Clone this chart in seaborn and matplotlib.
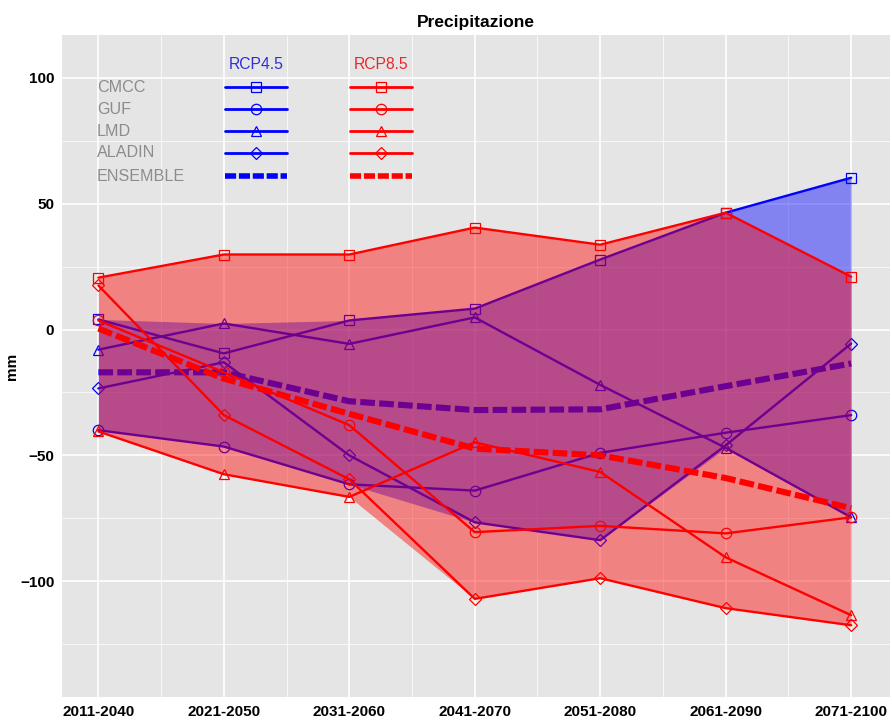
import numpy as np
import pandas as pd
import matplotlib
matplotlib.use("Agg")
import matplotlib.pyplot as plt
import seaborn as sns
from matplotlib.lines import Line2D
from matplotlib.ticker import MultipleLocator

# ---------------------------------------------------------------------------
# Data (mm)
# ---------------------------------------------------------------------------
periods = ["2011-2040", "2021-2050", "2031-2060", "2041-2070",
           "2051-2080", "2061-2090", "2071-2100"]
models = ["CMCC", "GUF", "LMD", "ALADIN"]

rcp45_cmcc = [4.0, -9.5, 3.6, 8.3, 27.8, 46.4, 60.3]
rcp45_guf = [-40.0, -46.5, -61.5, -64.0, -49.0, -41.0, -34.0]
rcp45_lmd = [-8.0, 2.4, -5.7, 4.8, -22.0, -47.0, -74.6]
rcp45_aladin = [-23.4, -13.0, -50.0, -76.6, -83.7, -46.0, -5.6]
rcp45_ensemble = [-17.0, -17.0, -28.5, -32.0, -31.7, -22.5, -13.5]

rcp85_cmcc = [20.6, 29.8, 29.8, 40.5, 33.7, 46.4, 21.0]
rcp85_guf = [3.6, -17.0, -38.0, -80.5, -78.0, -81.0, -74.6]
rcp85_lmd = [-40.5, -57.5, -66.5, -44.8, -56.6, -90.5, -113.5]
rcp85_aladin = [17.5, -34.0, -59.5, -107.0, -98.8, -110.7, -117.5]
rcp85_ensemble = [0.4, -19.5, -33.5, -47.3, -50.0, -59.0, -71.0]

scenarios = ["RCP4.5", "RCP8.5"]
scenario_models = {
    "RCP4.5": [rcp45_cmcc, rcp45_guf, rcp45_lmd, rcp45_aladin],
    "RCP8.5": [rcp85_cmcc, rcp85_guf, rcp85_lmd, rcp85_aladin],
}
scenario_ensemble = {"RCP4.5": rcp45_ensemble, "RCP8.5": rcp85_ensemble}

# ---------------------------------------------------------------------------
# Styling
# ---------------------------------------------------------------------------
COLORS = {"RCP4.5": "#0000ff", "RCP8.5": "#ff0000"}
HEADER_COLORS = {"RCP4.5": "#2f2fd6", "RCP8.5": "#e8282b"}
MARKERS = {"CMCC": "s", "GUF": "o", "LMD": "^", "ALADIN": "D"}
MARKER_SIZES = {"CMCC": 7, "GUF": 7.5, "LMD": 7, "ALADIN": 6.5}
FILL_ALPHA = 0.43

sns.set_style("darkgrid", {
    "axes.facecolor": "#e5e5e5",
    "grid.color": "white",
})
plt.rcParams["font.family"] = ["Liberation Sans", "DejaVu Sans"]

rows = []
for scen in scenarios:
    for name, vals in zip(models, scenario_models[scen]):
        for p, v in zip(periods, vals):
            rows.append({"scenario": scen, "model": name, "period": p, "mm": v})
    for p, v in zip(periods, scenario_ensemble[scen]):
        rows.append({"scenario": scen, "model": "ENSEMBLE", "period": p, "mm": v})
df = pd.DataFrame(rows)

fig = plt.figure(figsize=(8.92, 7.22), dpi=100)
ax = fig.add_axes([0.0695, 0.0346, 0.9283, 0.9169])

xpos = np.arange(len(periods))
z = 1
for scen in scenarios:
    color = COLORS[scen]
    sub = df[(df.scenario == scen) & (df.model != "ENSEMBLE")]
    band = sub.pivot(index="period", columns="model", values="mm").loc[periods]
    ax.fill_between(xpos, band.min(axis=1), band.max(axis=1),
                    color=color, alpha=FILL_ALPHA, lw=0, zorder=z)
    for name in models:
        sns.lineplot(
            data=sub[sub.model == name], x="period", y="mm", ax=ax,
            color=color, lw=1.7, sort=False, legend=False,
            marker=MARKERS[name], markersize=MARKER_SIZES[name],
            markerfacecolor="none", markeredgecolor=color,
            markeredgewidth=0.9, zorder=z + 1,
        )
    ens = df[(df.scenario == scen) & (df.model == "ENSEMBLE")]
    sns.lineplot(
        data=ens, x="period", y="mm", ax=ax, color=color, lw=4.4,
        linestyle=(0, (2.4, 0.7)), sort=False, legend=False, zorder=z + 1,
    )
    z += 2

# ---------------------------------------------------------------------------
# Axes
# ---------------------------------------------------------------------------
ax.set_xlim(-0.29, 6.31)
ax.set_ylim(-146, 117)
ax.set_xticks(xpos)
ax.set_xticklabels(periods)
ax.set_yticks([-100, -50, 0, 50, 100])
ax.xaxis.set_minor_locator(MultipleLocator(0.5))
ax.yaxis.set_minor_locator(MultipleLocator(25))
ax.grid(which="major", color="white", lw=1.2)
ax.grid(which="minor", color="white", lw=0.5)
ax.tick_params(which="major", length=3.5, width=0.8, color="#333333",
               labelsize=11, pad=2)
ax.tick_params(which="minor", length=0)
for lbl in ax.get_xticklabels() + ax.get_yticklabels():
    lbl.set_fontweight("bold")
    lbl.set_color("black")
ax.set_xlabel("")
ax.set_ylabel("mm", fontsize=11, fontweight="bold", color="black")
ax.yaxis.set_label_coords(-0.052, 0.5)
ax.set_title("Precipitazione", fontsize=12.5, fontweight="bold",
             color="black", pad=6)
for s in ax.spines.values():
    s.set_visible(False)

# ---------------------------------------------------------------------------
# Hand-built legend (rows = models, columns = scenarios)
# ---------------------------------------------------------------------------
T = ax.transAxes
label_x = 0.042
row_y = [0.921, 0.888, 0.855, 0.822, 0.787]
col_span = {"RCP4.5": (0.197, 0.272), "RCP8.5": (0.348, 0.423)}
header_y = 0.955

for scen in scenarios:
    x0, x1 = col_span[scen]
    ax.text((x0 + x1) / 2, header_y, scen, transform=T,
            color=HEADER_COLORS[scen], fontsize=11.3, ha="center",
            va="center", zorder=10)
    for name, y in zip(models, row_y):
        ax.add_line(Line2D([x0, x1], [y, y], transform=T, color=COLORS[scen],
                           lw=2, zorder=10))
        ax.add_line(Line2D([(x0 + x1) / 2], [y], transform=T,
                           marker=MARKERS[name], markersize=MARKER_SIZES[name],
                           markerfacecolor="none", markeredgecolor=COLORS[scen],
                           markeredgewidth=0.9, zorder=10))
    ax.add_line(Line2D([x0, x1], [row_y[-1]] * 2, transform=T, color=COLORS[scen],
                       lw=4, linestyle=(0, (2.0, 0.5)), zorder=10))

for name, y in zip(models + ["ENSEMBLE"], row_y):
    ax.text(label_x, y, name, transform=T, color="#8c8c8c", fontsize=11.6,
            ha="left", va="center", zorder=10)

fig.savefig("out.png", dpi=100)
